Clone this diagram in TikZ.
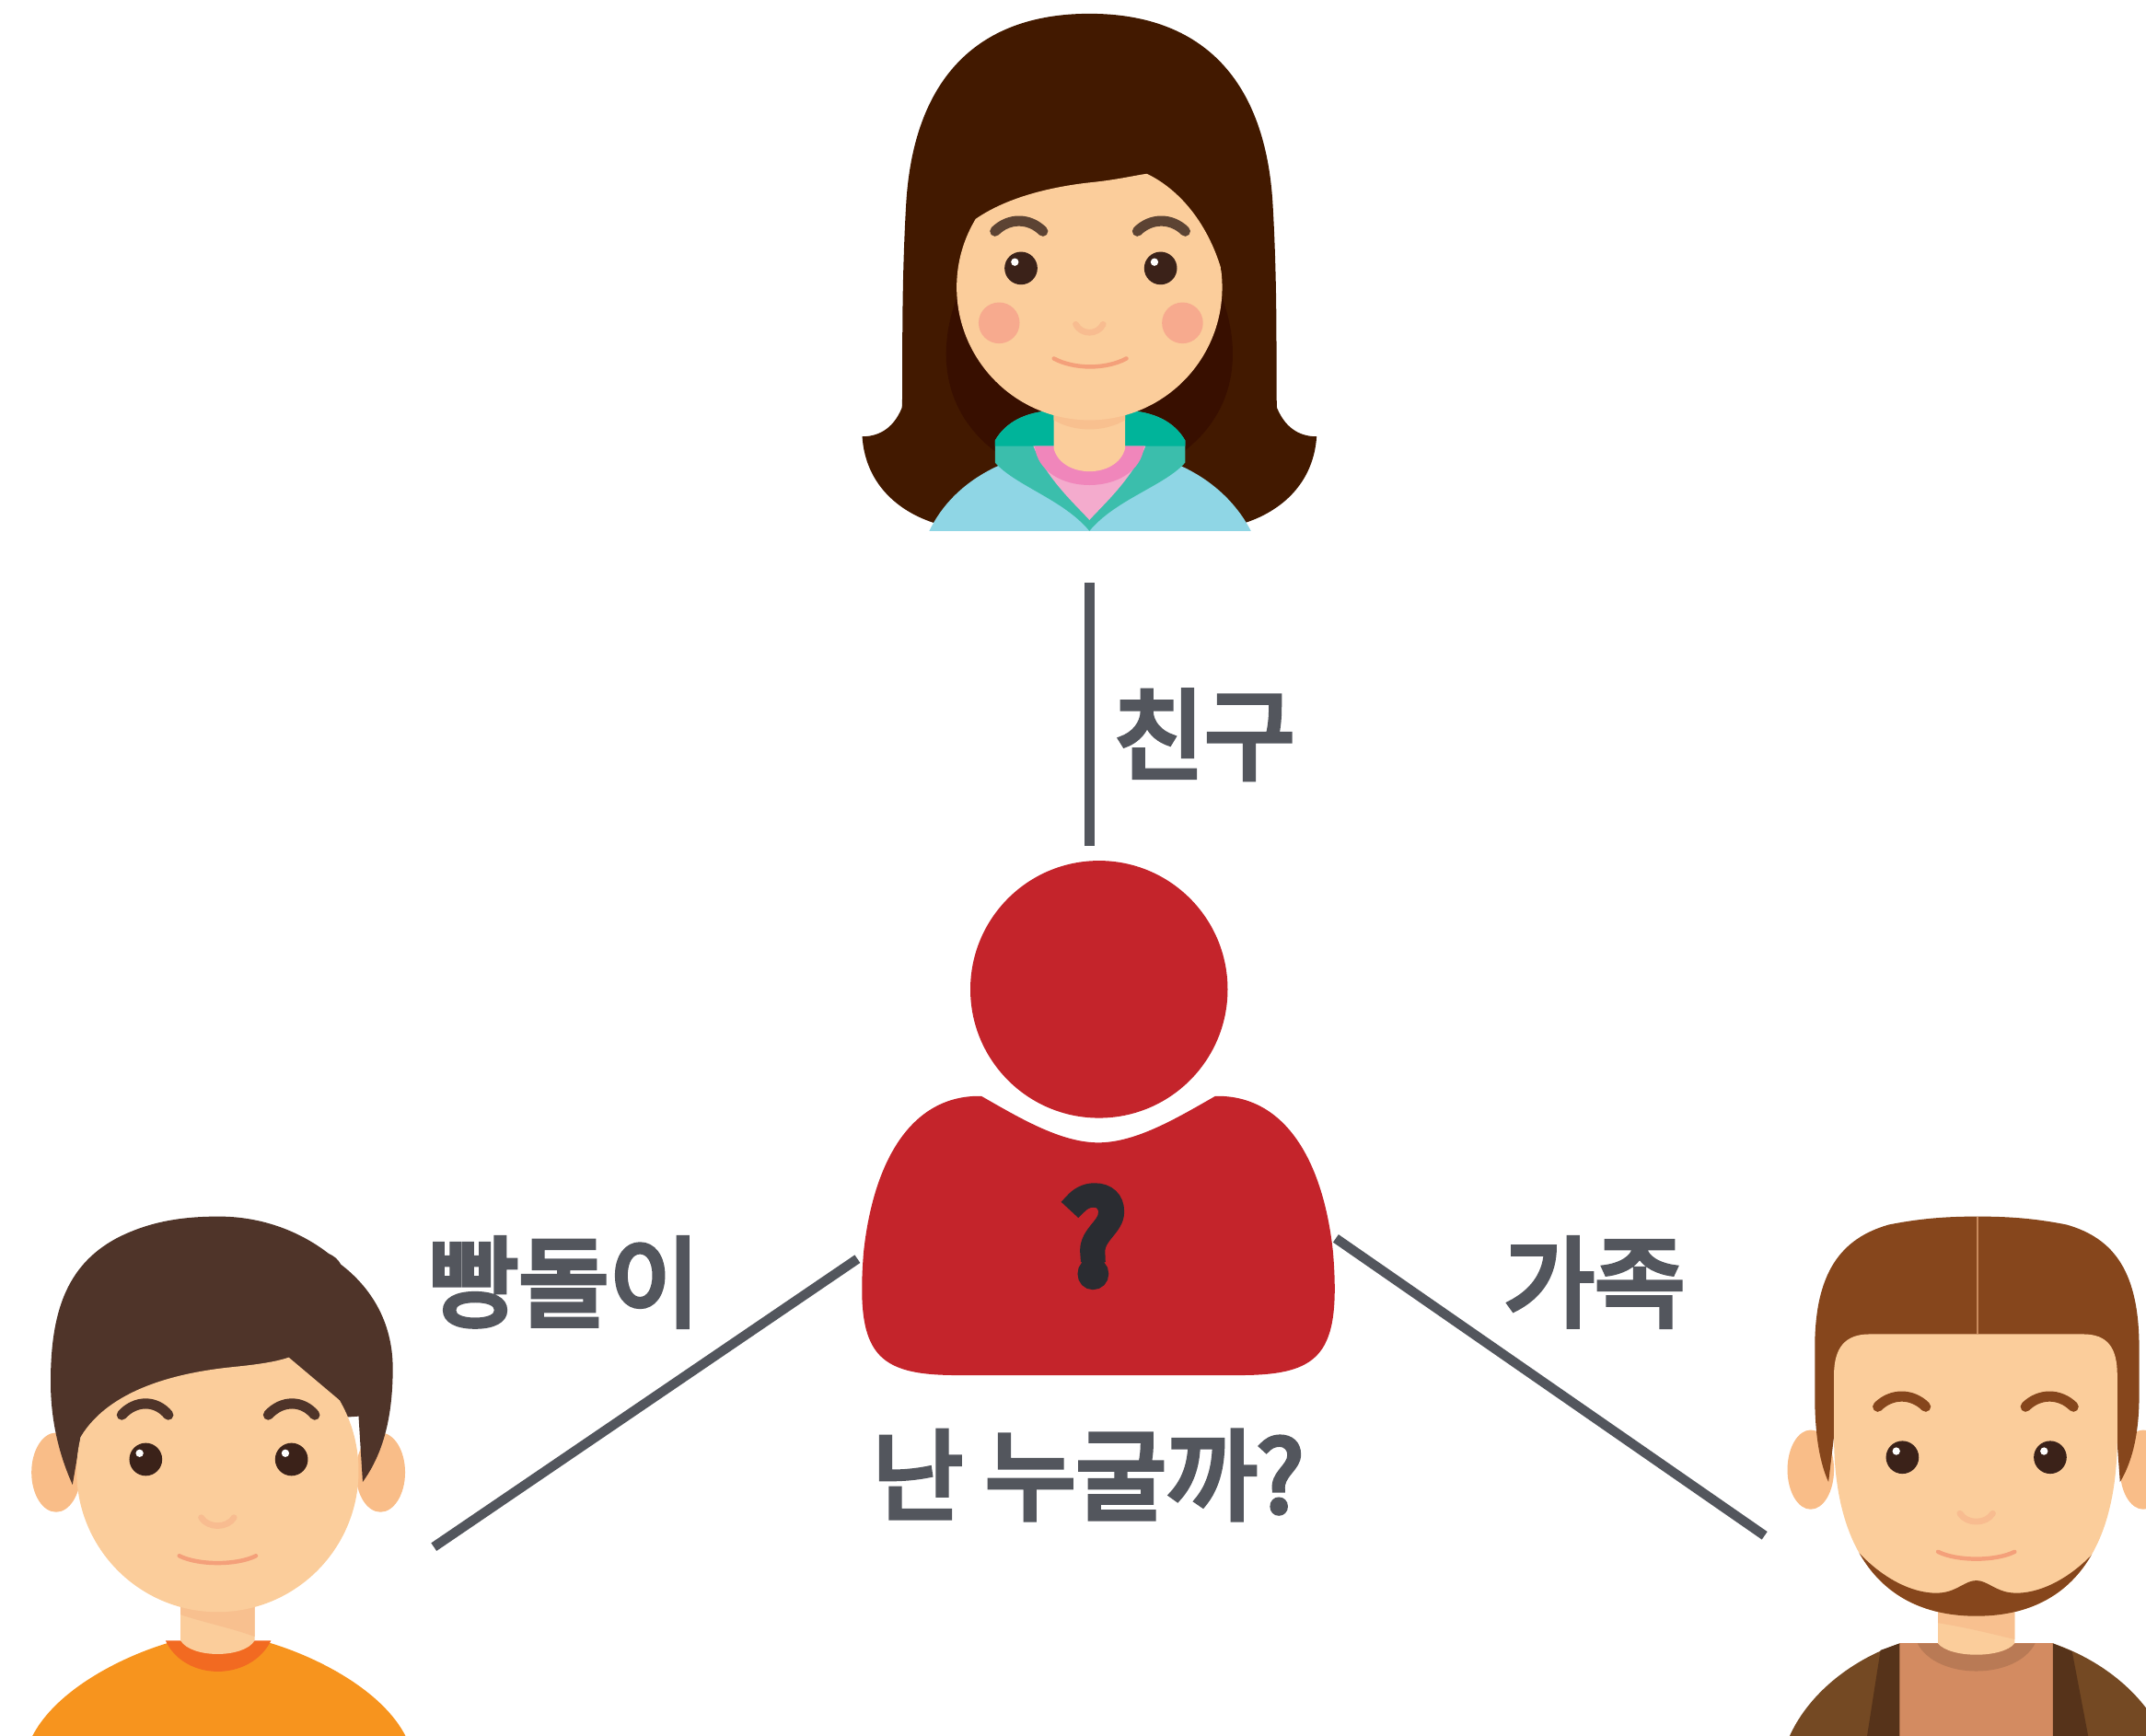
\documentclass[tikz,border=0pt]{standalone}
\usepackage{fontspec}
\newfontfamily\krfont{Noto Sans CJK KR}[FakeBold=5]
\newfontfamily\krheavy{Noto Sans CJK KR}[FakeBold=13]
% palette
\definecolor{skin}{HTML}{FBCD9B}
\definecolor{skinDk}{HTML}{F9BD88}
\definecolor{neckShade}{HTML}{F8C08F}
\definecolor{noseC}{HTML}{F8BC90}
\definecolor{mouthC}{HTML}{F4A07A}
\definecolor{eyeC}{HTML}{3B2219}
\definecolor{cheekC}{HTML}{F7AA8E}
\definecolor{wHair}{HTML}{421900}
\definecolor{wHairDk}{HTML}{380F00}
\definecolor{wBrow}{HTML}{5C4333}
\definecolor{hoodie}{HTML}{8FD6E5}
\definecolor{collarLt}{HTML}{3BBEAC}
\definecolor{collarDk}{HTML}{00B49A}
\definecolor{pinkLt}{HTML}{F4ABCD}
\definecolor{pinkDk}{HTML}{F086BB}
\definecolor{bHair}{HTML}{4F3429}
\definecolor{bShirt}{HTML}{F7941E}
\definecolor{bCollar}{HTML}{F26A21}
\definecolor{mHair}{HTML}{86461C}
\definecolor{mPart}{HTML}{C98A5C}
\definecolor{jacket}{HTML}{744923}
\definecolor{lapel}{HTML}{56331A}
\definecolor{shirtTan}{HTML}{D38B61}
\definecolor{shirtTanDk}{HTML}{B97A55}
\definecolor{figRed}{HTML}{C4242B}
\definecolor{qmark}{HTML}{2A2C31}
\definecolor{lineC}{HTML}{53565D}
\begin{document}
\begin{tikzpicture}[x=1pt,y=-1pt,
  link/.style={draw=lineC,line width=7pt},
  lbl/.style={text=lineC,inner sep=0pt,font=\krfont\fontsize{72}{80}\selectfont},
  eyeball/.style={fill=eyeC},
  glint/.style={fill=white},
  brow/.style={line width=7.5pt,line cap=round},
  nosearc/.style={draw=noseC,line width=4.5pt,line cap=round},
  smile/.style={draw=mouthC,line width=3pt,line cap=round}]
\useasboundingbox (0,0) rectangle (1568,1268);
\clip (0,0) rectangle (1568,1268);

% ---------------- girl (top) ----------------
\fill[wHair] (796,10) .. controls (880,10) and (925,60) .. (930,150)
  .. controls (934,220) and (932,280) .. (933,298)
  .. controls (940,315) and (952,319) .. (962,319)
  .. controls (960,350) and (940,372) .. (910,382) -- (682,382)
  .. controls (652,372) and (632,350) .. (630,319)
  .. controls (640,319) and (652,315) .. (659,298)
  .. controls (660,280) and (658,220) .. (662,150)
  .. controls (667,60) and (712,10) .. (796,10) -- cycle;
\fill[wHairDk] (700,215) .. controls (682,262) and (692,305) .. (730,332) -- (796,332) -- (796,215) -- cycle;
\fill[wHairDk] (892,215) .. controls (910,262) and (900,305) .. (862,332) -- (796,332) -- (796,215) -- cycle;
% hoodie and collar
\fill[hoodie] (679,388) .. controls (690,365) and (710,348) .. (735,338) -- (857,338)
  .. controls (882,348) and (902,365) .. (914,388) -- cycle;
\fill[collarLt] (727,338) -- (727,322) .. controls (735,308) and (750,301) .. (769,300) -- (824,300)
  .. controls (843,301) and (858,308) .. (866,322) -- (866,338)
  .. controls (851,355) and (815,365) .. (796,388)
  .. controls (777,365) and (742,355) .. (727,338) -- cycle;
\fill[collarDk] (727,326) -- (727,322) .. controls (735,308) and (750,301) .. (769,300) -- (824,300)
  .. controls (843,301) and (858,308) .. (866,322) -- (866,326) -- cycle;
\fill[pinkLt] (755,326) .. controls (765,350) and (785,368) .. (796,380)
  .. controls (807,368) and (827,350) .. (837,326) -- cycle;
\fill[pinkDk] (756,326) .. controls (760,364) and (832,364) .. (836,326) -- cycle;
\fill[skin] (770,290) -- (770,328) .. controls (776,350) and (816,350) .. (822,328) -- (822,290) -- cycle;
\fill[neckShade] (770,295) -- (770,307) .. controls (785,316) and (807,316) .. (822,307) -- (822,295) -- cycle;
% face below the fringe
\begin{scope}
  \clip (600,400) -- (600,167) -- (704,167) .. controls (725,148) and (760,137) .. (800,133)
    .. controls (818,131) and (830,128) .. (838,127) .. controls (865,140) and (888,170) .. (896,212)
    -- (1000,212) -- (1000,400) -- cycle;
  \fill[skin] (796,210) circle[radius=97];
\end{scope}
\draw[brow,wBrow] (727,169) .. controls (737,159) and (752,159) .. (762,169);
\draw[brow,wBrow] (831,169) .. controls (841,159) and (856,159) .. (866,169);
\fill[eyeball] (746,196) circle[radius=12];
\fill[eyeball] (848,196) circle[radius=12];
\fill[glint] (741.5,191.5) circle[radius=2.8];
\fill[glint] (843.5,191.5) circle[radius=2.8];
\fill[cheekC] (730,236) circle[radius=15];
\fill[cheekC] (864,236) circle[radius=15];
\draw[nosearc] (786,237) .. controls (790,245) and (802,245) .. (806,237);
\draw[smile] (770,262) .. controls (785,270) and (808,270) .. (823,262);

% ---------------- centre figure ----------------
\fill[figRed] (803,723) circle[radius=94];
\fill[figRed] (717,801) .. controls (745,817) and (775,835) .. (802.5,835)
  .. controls (830,835) and (860,817) .. (888,801)
  .. controls (940,800) and (967,850) .. (974,915)
  .. controls (980,990) and (965,1005) .. (905,1005) -- (700,1005)
  .. controls (640,1005) and (625,990) .. (631,915)
  .. controls (638,850) and (665,800) .. (717,801) -- cycle;
\node[text=qmark,inner sep=0pt,font=\krheavy\fontsize{86}{100}\selectfont] (who) at (800,903.5) {?};
\node[lbl] (whoLabel) at (795,1078) {난 누굴까?};

% ---------------- boy (left) ----------------
\fill[bShirt] (23,1270) .. controls (40,1235) and (90,1210) .. (125,1200) -- (195,1200)
  .. controls (230,1210) and (280,1235) .. (297,1270) -- cycle;
\fill[bCollar] (121,1199) .. controls (135,1229) and (183,1229) .. (198,1199) -- cycle;
\fill[skin] (132,1150) -- (132,1199) .. controls (140,1212) and (178,1212) .. (186,1199) -- (186,1150) -- cycle;
\fill[neckShade] (132,1165) -- (132,1180) .. controls (150,1186) and (170,1190) .. (186,1196) -- (186,1165) -- cycle;
\fill[skinDk] (41,1076) ellipse[x radius=18, y radius=29];
\fill[skinDk] (278,1076) ellipse[x radius=18, y radius=29];
\fill[bHair] (53,1085) .. controls (44,1065) and (37,1040) .. (37,1010)
  .. controls (37,960) and (48,925) .. (85,905)
  .. controls (110,892) and (135,889) .. (160,889)
  .. controls (190,889) and (218,899) .. (240,916)
  .. controls (244,918) and (247,920) .. (249,924)
  .. controls (270,940) and (287,965) .. (287,1000)
  .. controls (287,1040) and (278,1065) .. (265,1083) -- (262,1035) -- (59,1050) -- cycle;
\begin{scope}
  \clip (30,1200) -- (30,1050) -- (59,1050) .. controls (80,1015) and (130,1003) .. (170,999)
    .. controls (190,997) and (202,995) .. (211,992) -- (262,1035) -- (300,1035) -- (300,1200) -- cycle;
  \fill[skin] (159,1075) circle[radius=103];
\end{scope}
\draw[brow,bHair] (89,1034) .. controls (99,1023) and (114,1023) .. (123,1034);
\draw[brow,bHair] (196,1034) .. controls (206,1023) and (221,1023) .. (230,1034);
\fill[eyeball] (106.5,1066.5) circle[radius=12];
\fill[eyeball] (213,1066.5) circle[radius=12];
\fill[glint] (102,1062) circle[radius=2.8];
\fill[glint] (208.5,1062) circle[radius=2.8];
\draw[nosearc] (147,1109) .. controls (152,1117) and (166,1117) .. (171,1109);
\draw[smile] (131,1137) .. controls (145,1144) and (173,1144) .. (187,1137);

% ---------------- man (right) ----------------
\fill[jacket] (1307,1270) .. controls (1320,1240) and (1350,1214) .. (1388,1201) -- (1500,1201)
  .. controls (1538,1214) and (1568,1240) .. (1581,1270) -- cycle;
\fill[shirtTan] (1388,1201) rectangle (1500,1270);
\fill[lapel] (1388,1201) -- (1374,1206) -- (1364,1270) -- (1388,1270) -- cycle;
\fill[lapel] (1500,1201) -- (1514,1207) -- (1526,1270) -- (1500,1270) -- cycle;
\fill[shirtTanDk] (1401,1201) .. controls (1415,1228) and (1473,1228) .. (1487,1201) -- cycle;
\fill[skin] (1416,1160) -- (1416,1201) .. controls (1425,1212) and (1463,1212) .. (1472,1201) -- (1472,1160) -- cycle;
\fill[neckShade] (1416,1170) -- (1416,1186) .. controls (1440,1190) and (1455,1194) .. (1472,1198) -- (1472,1170) -- cycle;
\fill[skinDk] (1323,1074) ellipse[x radius=17, y radius=29];
\fill[skinDk] (1566,1074) ellipse[x radius=17, y radius=29];
\fill[mHair] (1336,1083) .. controls (1330,1070) and (1326,1050) .. (1326,1020) -- (1326,985)
  .. controls (1326,930) and (1345,905) .. (1380,895)
  .. controls (1405,890) and (1425,889) .. (1445,889)
  .. controls (1465,889) and (1485,890) .. (1510,895)
  .. controls (1545,905) and (1563,930) .. (1563,985) -- (1563,1020)
  .. controls (1563,1050) and (1557,1070) .. (1549,1083) -- (1543,1000) -- (1346,1000) -- cycle;
\draw[mPart,line width=1pt] (1445,889) -- (1445,975);
\fill[skin] (1366,975) -- (1522,975) .. controls (1540,975) and (1547,985) .. (1547,1005) -- (1547,1050)
  .. controls (1547,1130) and (1515,1181) .. (1444,1181)
  .. controls (1373,1181) and (1340,1130) .. (1340,1050) -- (1340,1005)
  .. controls (1340,985) and (1348,975) .. (1366,975) -- cycle;
\begin{scope}
  \clip (1366,975) -- (1522,975) .. controls (1540,975) and (1547,985) .. (1547,1005) -- (1547,1050)
    .. controls (1547,1130) and (1515,1181) .. (1444,1181)
    .. controls (1373,1181) and (1340,1130) .. (1340,1050) -- (1340,1005)
    .. controls (1340,985) and (1348,975) .. (1366,975) -- cycle;
  \fill[mHair] (1340,1110) .. controls (1362,1148) and (1395,1166) .. (1418,1164)
    .. controls (1430,1163) and (1436,1155) .. (1444,1155)
    .. controls (1452,1155) and (1458,1163) .. (1470,1164)
    .. controls (1493,1166) and (1526,1148) .. (1548,1110)
    -- (1560,1110) -- (1560,1200) -- (1330,1200) -- (1330,1110) -- cycle;
\end{scope}
\draw[brow,mHair] (1372,1028) .. controls (1382,1018) and (1397,1018) .. (1407,1028);
\draw[brow,mHair] (1480,1028) .. controls (1490,1018) and (1505,1018) .. (1515,1028);
\fill[eyeball] (1390,1065) circle[radius=12];
\fill[eyeball] (1498,1065) circle[radius=12];
\fill[glint] (1385.5,1060.5) circle[radius=2.8];
\fill[glint] (1493.5,1060.5) circle[radius=2.8];
\draw[nosearc] (1432,1106) .. controls (1437,1114) and (1451,1114) .. (1456,1106);
\draw[smile] (1416,1134) .. controls (1430,1141) and (1458,1141) .. (1472,1134);

% ---------------- connectors and labels ----------------
\coordinate (girlBase) at (796,426);
\coordinate (whoTop) at (796,618);
\coordinate (whoLeft) at (626.5,920);
\coordinate (boyEnd) at (317,1130.5);
\coordinate (whoRight) at (976,905);
\coordinate (manEnd) at (1289.3,1122.2);
\draw[link] (girlBase) -- (whoTop);
\draw[link] (whoLeft) -- (boyEnd);
\draw[link] (whoRight) -- (manEnd);
\node[lbl] (friend) at (880,537) {친구};
\node[lbl] (gopher) at (412,937) {빵돌이};
\node[lbl] (family) at (1165,937) {가족};
\end{tikzpicture}
\end{document}
